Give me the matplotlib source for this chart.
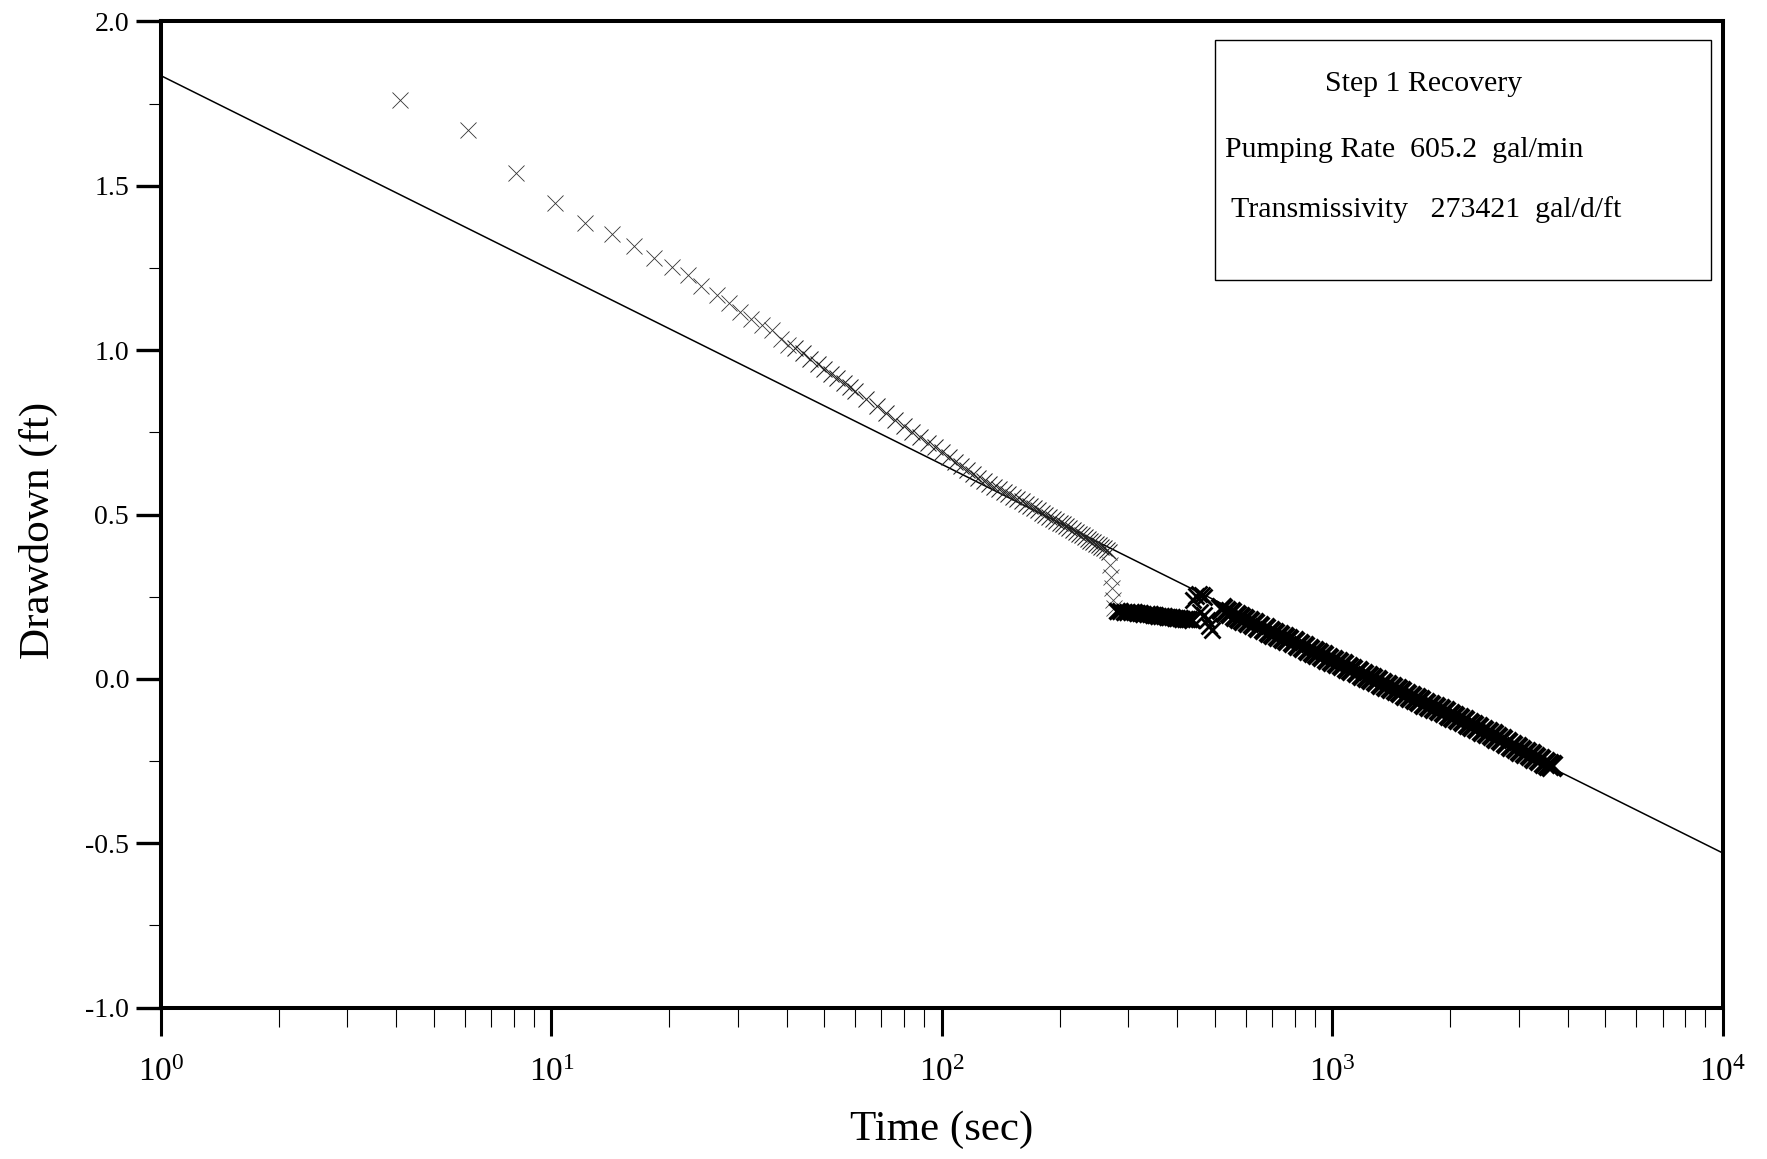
import matplotlib
matplotlib.use("Agg")
import matplotlib.pyplot as plt
from matplotlib.ticker import LogLocator, MultipleLocator

plt.rcParams['font.family'] = ['Liberation Serif', 'DejaVu Serif']
plt.rcParams['mathtext.fontset'] = 'stix'
plt.rcParams['axes.unicode_minus'] = False

# --- data (time in sec, drawdown in ft) ---
# first sparse points
t_early = [4.1, 6.1, 8.1, 10.2, 12.2, 14.3, 16.3, 18.3, 20.4, 22.4,
           24.2, 26.5, 28.4, 30.4, 32.5, 34.5, 36.6, 38.8, 40.4]
d_early = [1.760, 1.670, 1.540, 1.447, 1.386, 1.353, 1.318, 1.279, 1.254, 1.229,
           1.195, 1.168, 1.142, 1.116, 1.096, 1.076, 1.060, 1.035, 1.015]

# dense part up to the drop
t_mid = [42, 44, 46, 48, 50, 52, 54, 56, 58, 60,
         64, 68, 72, 76, 80, 84, 88, 92, 96, 100,
         104, 108, 112, 116, 120, 124, 128, 132, 136, 140,
         144, 148, 152, 156, 160, 164, 168, 172, 176, 180,
         184, 188, 192, 196, 200, 204, 208, 212, 216, 220,
         224, 228, 232, 236, 240, 244, 248, 252, 256, 260,
         264, 268]
d_mid = [1.008, 0.990, 0.974, 0.958, 0.943, 0.929, 0.915, 0.901, 0.888, 0.876,
         0.852, 0.829, 0.808, 0.789, 0.770, 0.752, 0.735, 0.719, 0.704, 0.689,
         0.675, 0.661, 0.648, 0.635, 0.623, 0.611, 0.602, 0.593, 0.585, 0.577,
         0.569, 0.561, 0.554, 0.547, 0.540, 0.533, 0.526, 0.520, 0.513, 0.506,
         0.500, 0.494, 0.487, 0.481, 0.475, 0.470, 0.464, 0.458, 0.453, 0.448,
         0.442, 0.437, 0.431, 0.426, 0.421, 0.416, 0.411, 0.406, 0.401, 0.397,
         0.392, 0.387]

# sudden drop
t_drop = [270, 271, 272, 274, 276]
d_drop = [0.346, 0.310, 0.276, 0.240, 0.215]

# plateau
t_plat = [280, 286, 292, 298, 304, 310, 316, 322, 328, 334,
          340, 346, 352, 358, 364, 370, 376, 382, 388, 394,
          400, 406, 412, 418, 424, 430, 436]
d_plat = [0.208, 0.207, 0.205, 0.204, 0.203, 0.202, 0.200, 0.199, 0.198, 0.197,
          0.196, 0.195, 0.194, 0.192, 0.191, 0.190, 0.189, 0.188, 0.187, 0.186,
          0.185, 0.184, 0.183, 0.183, 0.182, 0.181, 0.180]

# jump cluster
t_jump = [440, 448, 456, 462, 468, 458, 470, 478, 484, 490]
d_jump = [0.240, 0.252, 0.258, 0.255, 0.248, 0.205, 0.195, 0.178, 0.160, 0.148]

# late dense band
t_band = [520, 535, 550, 565, 580, 595, 610, 630, 650, 670,
          690, 710, 730, 750, 770, 795, 820, 845, 870, 895,
          920, 945, 975, 1005, 1035, 1065, 1095, 1125, 1160, 1195,
          1230, 1265, 1300, 1340, 1380, 1420, 1460, 1500, 1545, 1590,
          1635, 1680, 1730, 1780, 1830, 1885, 1940, 1995, 2050, 2110,
          2170, 2230, 2295, 2360, 2430, 2500, 2570, 2645, 2720, 2800,
          2880, 2960, 3045, 3130, 3220, 3310, 3400, 3500, 3580, 3650]
d_band = [0.212, 0.205, 0.199, 0.192, 0.186, 0.180, 0.174, 0.166, 0.159, 0.151,
          0.144, 0.138, 0.131, 0.124, 0.118, 0.111, 0.103, 0.096, 0.089, 0.082,
          0.076, 0.069, 0.062, 0.055, 0.048, 0.041, 0.034, 0.028, 0.020, 0.013,
          0.006, 0.000, -0.007, -0.014, -0.021, -0.028, -0.035, -0.041, -0.048, -0.055,
          -0.062, -0.068, -0.075, -0.082, -0.089, -0.096, -0.102, -0.109, -0.116, -0.123,
          -0.129, -0.136, -0.143, -0.149, -0.157, -0.165, -0.172, -0.180, -0.187, -0.195,
          -0.203, -0.210, -0.218, -0.225, -0.233, -0.240, -0.247, -0.255, -0.261, -0.266]

# straight-line fit
t_fit = [1, 10000]
d_fit = [1.835, -0.530]

box_lines = ["Step 1 Recovery",
             "Pumping Rate  605.2  gal/min",
             "Transmissivity   273421  gal/d/ft"]

# --- figure ---
fig = plt.figure(figsize=(17.67, 11.59), dpi=100)
ax = fig.add_axes([0.0911, 0.1306, 0.884, 0.8509])

ax.plot(t_fit, d_fit, color='black', lw=1.1)

mk = dict(linestyle='none', marker='x')
ax.plot(t_early, d_early, color='#333333', ms=11, mew=0.6, **mk)
ax.plot(t_mid, d_mid, color='#222222', ms=11, mew=0.75, **mk)
ax.plot(t_drop, d_drop, color='#444444', ms=11, mew=0.6, **mk)
ax.plot(t_plat, d_plat, color='black', ms=12, mew=2.4, **mk)
ax.plot(t_jump, d_jump, color='black', ms=12, mew=2.0, **mk)
ax.plot(t_band, d_band, color='black', ms=14, mew=3.2, **mk)

ax.set_xscale('log')
ax.set_xlim(1, 10000)
ax.set_ylim(-1.0, 2.0)

ax.xaxis.set_major_locator(LogLocator(base=10, numticks=10))
ax.xaxis.set_minor_locator(LogLocator(base=10, subs=range(2, 10), numticks=20))
ax.yaxis.set_major_locator(MultipleLocator(0.5))
ax.yaxis.set_minor_locator(MultipleLocator(0.25))
ax.yaxis.set_major_formatter(plt.FormatStrFormatter('%.1f'))

ax.tick_params(axis='y', which='major', direction='out', length=18, width=2.4,
               labelsize=20, pad=5)
ax.tick_params(axis='y', which='minor', direction='out', length=9, width=0.8)
ax.tick_params(axis='x', which='major', direction='out', length=20, width=2.2,
               labelsize=24, pad=16)
ax.tick_params(axis='x', which='minor', direction='out', length=14, width=0.8)
ax.tick_params(top=False, right=False, which='both')

for s in ax.spines.values():
    s.set_linewidth(2.9)

ax.set_xlabel("Time (sec)", fontsize=31)
ax.set_ylabel("Drawdown (ft)", fontsize=31)
ax.xaxis.set_label_coords(0.5, -0.104)
ax.yaxis.set_label_coords(-0.066, 0.484)

# info box
box = plt.Rectangle((0.675, 0.738), 0.317, 0.243, transform=ax.transAxes,
                    fill=False, edgecolor='black', lw=1.0)
ax.add_patch(box)
ax.text(0.745, 0.9365, box_lines[0], transform=ax.transAxes, fontsize=21.5,
        va='center', ha='left')
ax.text(0.681, 0.8696, box_lines[1], transform=ax.transAxes, fontsize=21.5,
        va='center', ha='left')
ax.text(0.685, 0.8088, box_lines[2], transform=ax.transAxes, fontsize=21.5,
        va='center', ha='left')

fig.savefig("out.png", dpi=100)
